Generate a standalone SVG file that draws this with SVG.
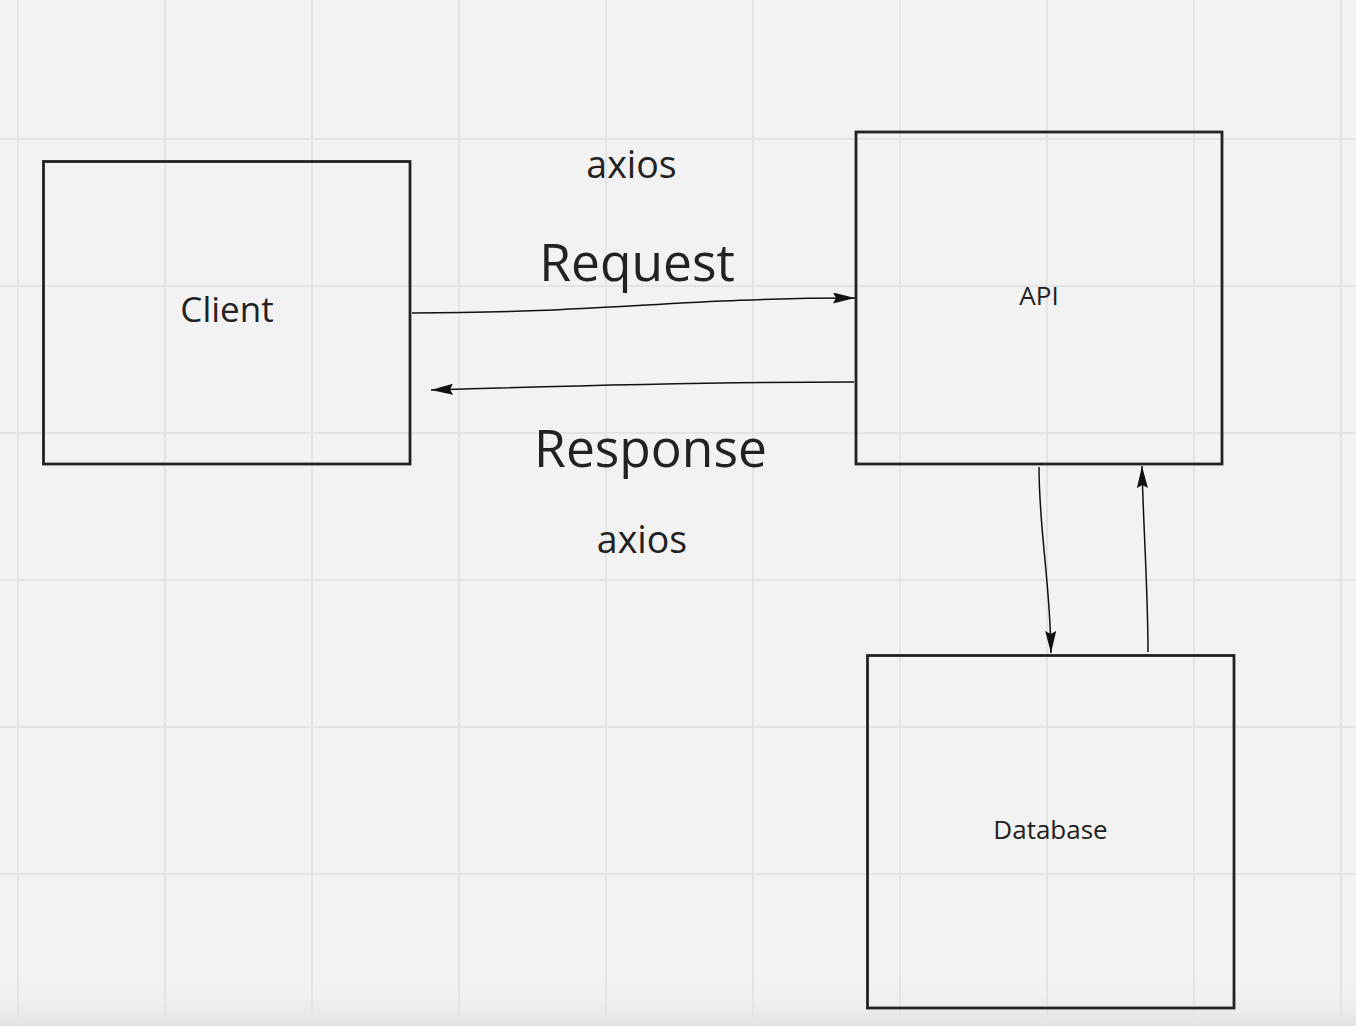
<svg xmlns="http://www.w3.org/2000/svg" width="1356" height="1026" viewBox="0 0 1356 1026">
<style>
.grid line{stroke:#e4e4e4;stroke-width:2}
.node rect{fill:none;stroke:#222;stroke-width:2.8}
.lbl{font-family:"Open Sans","Noto Sans",sans-serif;fill:#222;text-anchor:middle}
.conn path{fill:none;stroke:#111;stroke-width:1.5}
</style>
<defs>
<marker id="ah" markerUnits="userSpaceOnUse" markerWidth="24" markerHeight="12" refX="22" refY="5.5" orient="auto">
<path d="M0,0 L22,5.5 L0,11 L3,5.5 z" fill="#111"/>
</marker>
<linearGradient id="bot" x1="0" y1="0" x2="0" y2="1">
<stop offset="0" stop-color="#f2f2f2" stop-opacity="0"/>
<stop offset="1" stop-color="#e2e2e2"/>
</linearGradient>
</defs>
<rect width="1356" height="1026" fill="#f2f2f2"/>
<rect x="0" y="980" width="1356" height="46" fill="url(#bot)"/>
<g class="grid">
<line x1="18" y1="0" x2="18" y2="1026"/>
<line x1="165" y1="0" x2="165" y2="1026"/>
<line x1="312" y1="0" x2="312" y2="1026"/>
<line x1="459" y1="0" x2="459" y2="1026"/>
<line x1="606" y1="0" x2="606" y2="1026"/>
<line x1="753" y1="0" x2="753" y2="1026"/>
<line x1="900" y1="0" x2="900" y2="1026"/>
<line x1="1047" y1="0" x2="1047" y2="1026"/>
<line x1="1194" y1="0" x2="1194" y2="1026"/>
<line x1="1341" y1="0" x2="1341" y2="1026"/>
<line x1="0" y1="139" x2="1356" y2="139"/>
<line x1="0" y1="286" x2="1356" y2="286"/>
<line x1="0" y1="433" x2="1356" y2="433"/>
<line x1="0" y1="580" x2="1356" y2="580"/>
<line x1="0" y1="727" x2="1356" y2="727"/>
<line x1="0" y1="874" x2="1356" y2="874"/>
<line x1="0" y1="1021" x2="1356" y2="1021"/>
</g>
<g id="client" class="node">
<rect x="43.5" y="161.5" width="366.5" height="302.5"/>
<text class="lbl" x="227" y="322" font-size="35">Client</text>
</g>
<g id="api" class="node">
<rect x="856" y="132" width="366" height="332"/>
<text class="lbl" x="1039" y="305" font-size="26">API</text>
</g>
<g id="database" class="node">
<rect x="867.5" y="655.5" width="366.5" height="352.5"/>
<text class="lbl" x="1050.5" y="839" font-size="26">Database</text>
</g>
<g id="labels">
<text class="lbl" x="631.5" y="178" font-size="37.5">axios</text>
<text class="lbl" x="637" y="281" font-size="51.5">Request</text>
<text class="lbl" x="650.5" y="467" font-size="51.5">Response</text>
<text class="lbl" x="642" y="553" font-size="37.5">axios</text>
</g>
<g class="conn">
<path d="M412,313 C600,313 680,298 855,298" marker-end="url(#ah)"/>
<path d="M854,382 C700,382 560,386 431,390" marker-end="url(#ah)"/>
<path d="M1039,467 C1039,530 1050,580 1051,653" marker-end="url(#ah)"/>
<path d="M1148,652 C1148,590 1143,520 1142,466" marker-end="url(#ah)"/>
</g>
</svg>
